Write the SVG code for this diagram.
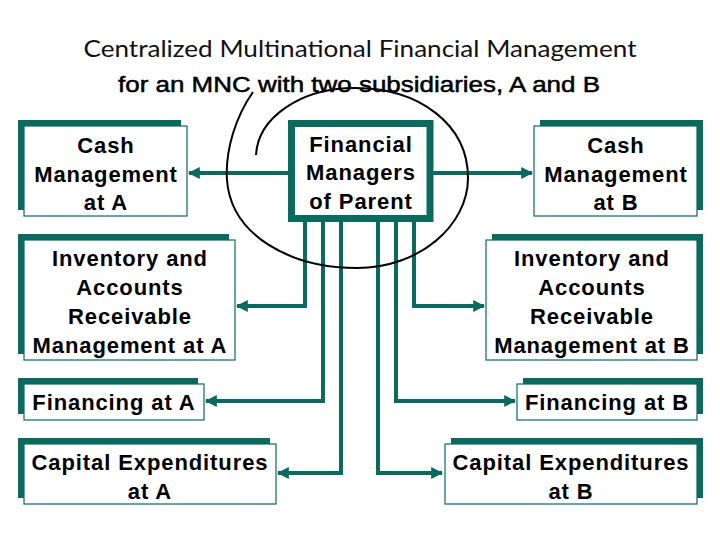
<svg xmlns="http://www.w3.org/2000/svg" width="720" height="540" viewBox="0 0 720 540">
<defs>
<style>
.sh{fill:#0B6A5D}
.bx{fill:#fff;stroke:#0B6A5D;stroke-width:1.2}
.t{font-family:"Liberation Sans",Arial,sans-serif;font-weight:bold;font-size:22px;letter-spacing:0.9px;fill:#000;text-anchor:middle}
.c{fill:none;stroke:#0B6A5D;stroke-width:4}
</style>
<marker id="ah" viewBox="0 0 10 10" refX="9" refY="5" markerWidth="3" markerHeight="3" orient="auto" markerUnits="strokeWidth">
<path d="M0,0 L10,5 L0,10 z" fill="#0B6A5D"/>
</marker>
</defs>
<rect width="720" height="540" fill="#fff"/>
<text x="360" y="57" font-family="Lato,'Open Sans',sans-serif" font-size="24" text-anchor="middle" textLength="553" lengthAdjust="spacingAndGlyphs" fill="#111">Centralized Multinational Financial Management</text>
<text x="359" y="92" font-family="'Liberation Sans',Arial,sans-serif" font-size="22" text-anchor="middle" textLength="482" lengthAdjust="spacingAndGlyphs" fill="#000" stroke="#000" stroke-width="0.5">for an MNC with two subsidiaries, A and B</text>

<g id="connectors">
<line class="c" x1="290" y1="173" x2="189" y2="173" marker-end="url(#ah)"/>
<line class="c" x1="431" y1="173" x2="532" y2="173" marker-end="url(#ah)"/>
<polyline class="c" points="305,222 305,306 237,306" marker-end="url(#ah)"/>
<polyline class="c" points="414,222 414,306 484,306" marker-end="url(#ah)"/>
<polyline class="c" points="323,222 323,401 206,401" marker-end="url(#ah)"/>
<polyline class="c" points="396,222 396,401 515,401" marker-end="url(#ah)"/>
<polyline class="c" points="341,222 341,473 278,473" marker-end="url(#ah)"/>
<polyline class="c" points="378,222 378,473 442,473" marker-end="url(#ah)"/>
</g>

<g id="parent">
<rect x="291.5" y="123.5" width="138.5" height="95" fill="#fff" stroke="#0B6A5D" stroke-width="7"/>
<text class="t" x="361" y="152">Financial</text>
<text class="t" x="361" y="180">Managers</text>
<text class="t" x="361" y="209">of Parent</text>
</g>

<g id="cashA">
<rect class="sh" x="18" y="120" width="163" height="90"/>
<rect class="bx" x="24" y="126" width="163" height="90"/>
<text class="t" x="106" y="153">Cash</text>
<text class="t" x="106" y="182">Management</text>
<text class="t" x="106" y="210">at A</text>
</g>

<g id="cashB">
<rect class="sh" x="540" y="120" width="163" height="90"/>
<rect class="bx" x="534" y="126" width="163" height="90"/>
<text class="t" x="616" y="153">Cash</text>
<text class="t" x="616" y="182">Management</text>
<text class="t" x="616" y="210">at B</text>
</g>

<g id="invA">
<rect class="sh" x="18" y="234" width="211" height="120"/>
<rect class="bx" x="24" y="240" width="211" height="120"/>
<text class="t" x="130" y="266">Inventory and</text>
<text class="t" x="130" y="295">Accounts</text>
<text class="t" x="130" y="324">Receivable</text>
<text class="t" x="130" y="353">Management at A</text>
</g>

<g id="invB">
<rect class="sh" x="492" y="234" width="211" height="120"/>
<rect class="bx" x="486" y="240" width="211" height="120"/>
<text class="t" x="592" y="266">Inventory and</text>
<text class="t" x="592" y="295">Accounts</text>
<text class="t" x="592" y="324">Receivable</text>
<text class="t" x="592" y="353">Management at B</text>
</g>

<g id="finA">
<rect class="sh" x="18" y="378" width="180" height="36"/>
<rect class="bx" x="24" y="384" width="180" height="36"/>
<text class="t" x="114" y="410">Financing at A</text>
</g>

<g id="finB">
<rect class="sh" x="523" y="378" width="180" height="36"/>
<rect class="bx" x="517" y="384" width="180" height="36"/>
<text class="t" x="607" y="410">Financing at B</text>
</g>

<g id="capA">
<rect class="sh" x="18" y="438" width="252" height="60"/>
<rect class="bx" x="24" y="444" width="252" height="60"/>
<text class="t" x="150" y="470">Capital Expenditures</text>
<text class="t" x="150" y="499">at A</text>
</g>

<g id="capB">
<rect class="sh" x="451" y="438" width="252" height="60"/>
<rect class="bx" x="445" y="444" width="252" height="60"/>
<text class="t" x="571" y="470">Capital Expenditures</text>
<text class="t" x="571" y="499">at B</text>
</g>

<g id="loop">
<path d="M253,92 C236,116 225,150 227,180 C231,235 290,268 357,268 C420,268 468,225 468,178 C468,125 420,88 355,88 C300,88 258,118 256,155" fill="none" stroke="#000" stroke-width="2"/>
</g>
</svg>
